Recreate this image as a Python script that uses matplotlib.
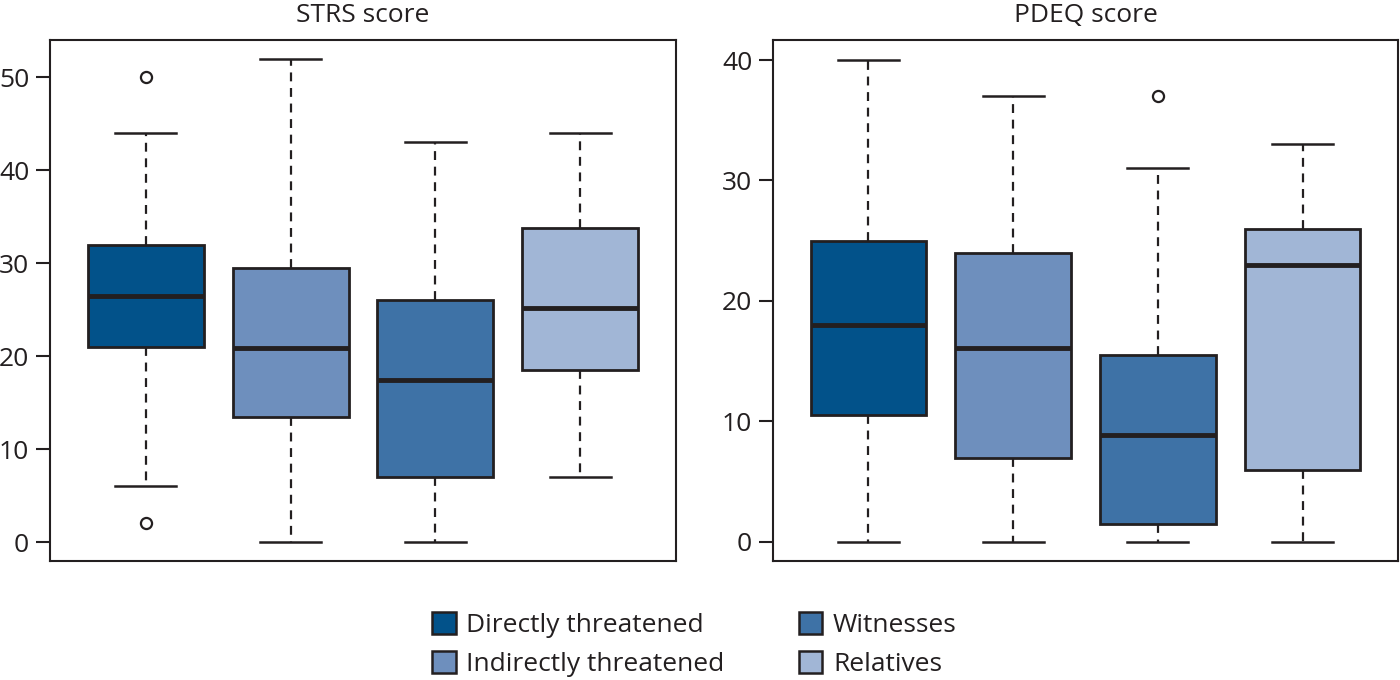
import matplotlib
matplotlib.use("Agg")
import matplotlib.pyplot as plt
from matplotlib.patches import Patch

plt.rcParams['font.family'] = ['Open Sans', 'DejaVu Sans']

groups = ["Directly threatened", "Indirectly threatened", "Witnesses", "Relatives"]
colors = ["#02528A", "#6E8FBD", "#3E72A6", "#A1B6D6"]

# STRS score
strs_q1 = [21, 13.5, 7, 18.5]
strs_med = [26.5, 20.9, 17.4, 25.2]
strs_q3 = [32, 29.5, 26, 33.8]
strs_lo = [6, 0, 0, 7]
strs_hi = [44, 52, 43, 44]
strs_fliers = [[50, 2], [], [], []]

# PDEQ score
pdeq_q1 = [10.5, 7, 1.5, 6]
pdeq_med = [18, 16.1, 8.9, 23]
pdeq_q3 = [25, 24, 15.5, 26]
pdeq_lo = [0, 0, 0, 0]
pdeq_hi = [40, 37, 31, 33]
pdeq_fliers = [[], [], [37], []]

titles = ["STRS score", "PDEQ score"]

fig = plt.figure(figsize=(14, 6.8), dpi=100)
ax1 = fig.add_axes([50/1400, 1-561/680, 626/1400, 521/680])
ax2 = fig.add_axes([773/1400, 1-561/680, 625/1400, 521/680])

edge = "#231F20"
FS = 19

def draw(ax, q1, med, q3, lo, hi, fl, title, ylim, yticks):
    stats = []
    for i in range(len(groups)):
        stats.append(dict(q1=q1[i], med=med[i], q3=q3[i], whislo=lo[i],
                          whishi=hi[i], fliers=fl[i], label=groups[i]))
    bp = ax.bxp(stats, positions=range(1, 5), widths=0.8, patch_artist=True,
                capwidths=0.42,
                boxprops=dict(edgecolor=edge, linewidth=2),
                medianprops=dict(color=edge, linewidth=3.5),
                whiskerprops=dict(color=edge, linewidth=1.6, linestyle=(0, (4, 3))),
                capprops=dict(color=edge, linewidth=1.8),
                flierprops=dict(marker='o', markersize=8, markerfacecolor='white',
                                markeredgecolor=edge, markeredgewidth=1.6))
    for patch, c in zip(bp['boxes'], colors):
        patch.set_facecolor(c)
    ax.set_xlim(0.34, 4.66)
    ax.set_ylim(*ylim)
    ax.set_yticks(yticks)
    ax.set_xticks([])
    for s in ax.spines.values():
        s.set_linewidth(1.5)
        s.set_color(edge)
    ax.tick_params(axis='y', length=10, width=1.5, color=edge, labelsize=FS,
                   labelcolor=edge, pad=5)
    ax.set_title(title, fontsize=FS, color=edge, pad=13)

draw(ax1, strs_q1, strs_med, strs_q3, strs_lo, strs_hi, strs_fliers, titles[0],
     (-2.04, 54.0), [0, 10, 20, 30, 40, 50])
draw(ax2, pdeq_q1, pdeq_med, pdeq_q3, pdeq_lo, pdeq_hi, pdeq_fliers, titles[1],
     (-1.58, 41.66), [0, 10, 20, 30, 40])

handles = [Patch(facecolor=c, edgecolor=edge, linewidth=1.8, label=g)
           for g, c in zip(groups, colors)]
fig.legend(handles=handles, ncol=2, loc='center', bbox_to_anchor=(0.496, 0.052),
           frameon=False, fontsize=FS, handlelength=0.9, handleheight=0.9,
           handletextpad=0.4, columnspacing=2.8, labelspacing=0.5,
           labelcolor=edge)

fig.savefig("out.png", dpi=100)
